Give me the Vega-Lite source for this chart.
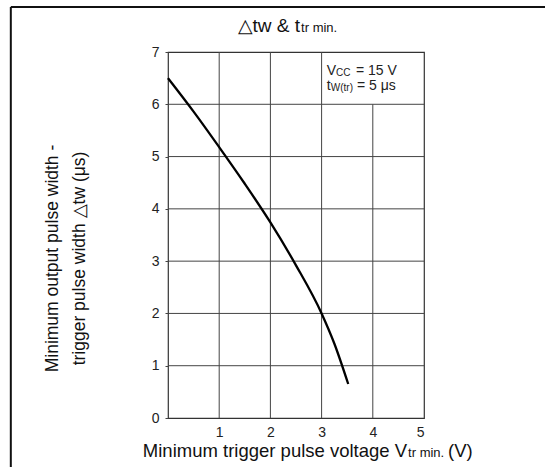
{
  "$schema": "https://vega.github.io/schema/vega-lite/v6.json",
  "autosize": {"type": "none"},
  "padding": {"left": 168, "top": 52, "right": 121, "bottom": 49},
  "width": 256,
  "height": 366,
  "background": "white",
  "config": {
    "font": "Liberation Sans",
    "view": {"stroke": "#333333", "strokeWidth": 1.2},
    "axis": {"labelFont": "Liberation Sans", "titleFont": "Liberation Sans"}
  },
  "datasets": {
    "curve": [
      {"v": 0.0, "w": 6.5},
      {"v": 0.5, "w": 5.86},
      {"v": 1.0, "w": 5.18},
      {"v": 1.5, "w": 4.48},
      {"v": 2.0, "w": 3.74},
      {"v": 2.5, "w": 2.92},
      {"v": 3.0, "w": 2.0},
      {"v": 3.25, "w": 1.42},
      {"v": 3.52, "w": 0.65}
    ],
    "vgrid": [
      {"x": 1, "y0": 0, "y1": 7},
      {"x": 2, "y0": 0, "y1": 7},
      {"x": 3, "y0": 0, "y1": 7},
      {"x": 4, "y0": 0, "y1": 6}
    ],
    "hgrid": [
      {"y": 1, "x0": 0, "x1": 5},
      {"y": 2, "x0": 0, "x1": 5},
      {"y": 3, "x0": 0, "x1": 5},
      {"y": 4, "x0": 0, "x1": 5},
      {"y": 5, "x0": 0, "x1": 5},
      {"y": 6, "x0": 0, "x1": 5}
    ],
    "frameV": [{"x": -3.07, "y0": -1, "y1": 7.86}],
    "frameH": [{"y": 7.86, "x0": -3.07, "x1": 7.5}],
    "titleBig": [{"x": 2.58, "y": 7.38, "t": "△tw & t"}],
    "titleSmall": [{"x": 2.58, "y": 7.38, "t": "tr min."}],
    "noteBig": [
      {"x": 3.1, "y": 6.56, "t": "V"},
      {"x": 3.67, "y": 6.56, "t": "= 15 V"},
      {"x": 3.1, "y": 6.27, "t": "t"},
      {"x": 3.69, "y": 6.27, "t": "= 5 μs"}
    ],
    "noteSmall": [
      {"x": 3.28, "y": 6.56, "t": "CC"},
      {"x": 3.18, "y": 6.27, "t": "W(tr)"}
    ],
    "xtitle": [{"x": 4.67, "y": -0.74, "a": "Minimum trigger pulse voltage V", "b": "tr min.", "c": "(V)"}]
  },
  "layer": [
    {
      "data": {"name": "vgrid"},
      "mark": {"type": "rule", "color": "#444444", "strokeWidth": 1},
      "encoding": {
        "x": {
          "field": "x", "type": "quantitative",
          "scale": {"domain": [0, 5], "nice": false},
          "axis": {
            "values": [1, 2, 3, 4, 5],
            "format": "d",
            "grid": false,
            "domain": false,
            "ticks": false,
            "labelFontSize": 14,
            "labelColor": "#222222",
            "labelPadding": 7,
            "title": null
          }
        },
        "y": {
          "field": "y0", "type": "quantitative",
          "scale": {"domain": [0, 7], "nice": false},
          "axis": {
            "values": [0, 1, 2, 3, 4, 5, 6, 7],
            "format": "d",
            "grid": false,
            "domain": false,
            "ticks": true,
            "tickSize": 3,
            "tickColor": "#444444",
            "labelFontSize": 14,
            "labelColor": "#222222",
            "labelPadding": 6,
            "title": ["Minimum output pulse width -", "trigger pulse width △tw (μs)"],
            "titleFontSize": 17.5,
            "titleFontWeight": "normal",
            "titleColor": "#111111",
            "titleLineHeight": 27,
            "titleAngle": -90,
            "titleAlign": "center",
            "titleBaseline": "alphabetic",
            "titleX": -111,
            "titleY": 206
          }
        },
        "y2": {"field": "y1"}
      }
    },
    {
      "data": {"name": "hgrid"},
      "mark": {"type": "rule", "color": "#444444", "strokeWidth": 1},
      "encoding": {
        "y": {"field": "y", "type": "quantitative"},
        "x": {"field": "x0", "type": "quantitative"},
        "x2": {"field": "x1"}
      }
    },
    {
      "data": {"name": "curve"},
      "mark": {"type": "line", "color": "#000000", "strokeWidth": 2.3, "interpolate": "monotone"},
      "encoding": {
        "x": {"field": "v", "type": "quantitative"},
        "y": {"field": "w", "type": "quantitative"}
      }
    },
    {
      "data": {"name": "frameV"},
      "mark": {"type": "rule", "color": "#111111", "strokeWidth": 2, "clip": false},
      "encoding": {
        "x": {"field": "x", "type": "quantitative"},
        "y": {"field": "y0", "type": "quantitative"},
        "y2": {"field": "y1"}
      }
    },
    {
      "data": {"name": "frameH"},
      "mark": {"type": "rule", "color": "#111111", "strokeWidth": 2, "clip": false},
      "encoding": {
        "y": {"field": "y", "type": "quantitative"},
        "x": {"field": "x0", "type": "quantitative"},
        "x2": {"field": "x1"}
      }
    },
    {
      "data": {"name": "titleBig"},
      "mark": {"type": "text", "fontSize": 19, "align": "right", "baseline": "alphabetic", "color": "#111111"},
      "encoding": {
        "x": {"field": "x", "type": "quantitative"},
        "y": {"field": "y", "type": "quantitative"},
        "text": {"field": "t"}
      }
    },
    {
      "data": {"name": "titleSmall"},
      "mark": {"type": "text", "fontSize": 13, "align": "left", "baseline": "alphabetic", "color": "#111111", "dx": 1},
      "encoding": {
        "x": {"field": "x", "type": "quantitative"},
        "y": {"field": "y", "type": "quantitative"},
        "text": {"field": "t"}
      }
    },
    {
      "data": {"name": "noteBig"},
      "mark": {"type": "text", "fontSize": 14, "align": "left", "baseline": "alphabetic", "color": "#222222"},
      "encoding": {
        "x": {"field": "x", "type": "quantitative"},
        "y": {"field": "y", "type": "quantitative"},
        "text": {"field": "t"}
      }
    },
    {
      "data": {"name": "noteSmall"},
      "mark": {"type": "text", "fontSize": 10, "align": "left", "baseline": "alphabetic", "color": "#222222", "dy": 1},
      "encoding": {
        "x": {"field": "x", "type": "quantitative"},
        "y": {"field": "y", "type": "quantitative"},
        "text": {"field": "t"}
      }
    },
    {
      "data": {"name": "xtitle"},
      "layer": [
        {
          "mark": {"type": "text", "fontSize": 18.5, "align": "right", "baseline": "alphabetic", "color": "#111111", "clip": false},
          "encoding": {
            "x": {"field": "x", "type": "quantitative"},
            "y": {"field": "y", "type": "quantitative"},
            "text": {"field": "a"}
          }
        },
        {
          "mark": {"type": "text", "fontSize": 13, "align": "left", "baseline": "alphabetic", "color": "#111111", "dx": 1, "clip": false},
          "encoding": {
            "x": {"field": "x", "type": "quantitative"},
            "y": {"field": "y", "type": "quantitative"},
            "text": {"field": "b"}
          }
        },
        {
          "mark": {"type": "text", "fontSize": 18.5, "align": "left", "baseline": "alphabetic", "color": "#111111", "dx": 41, "clip": false},
          "encoding": {
            "x": {"field": "x", "type": "quantitative"},
            "y": {"field": "y", "type": "quantitative"},
            "text": {"field": "c"}
          }
        }
      ]
    }
  ]
}
